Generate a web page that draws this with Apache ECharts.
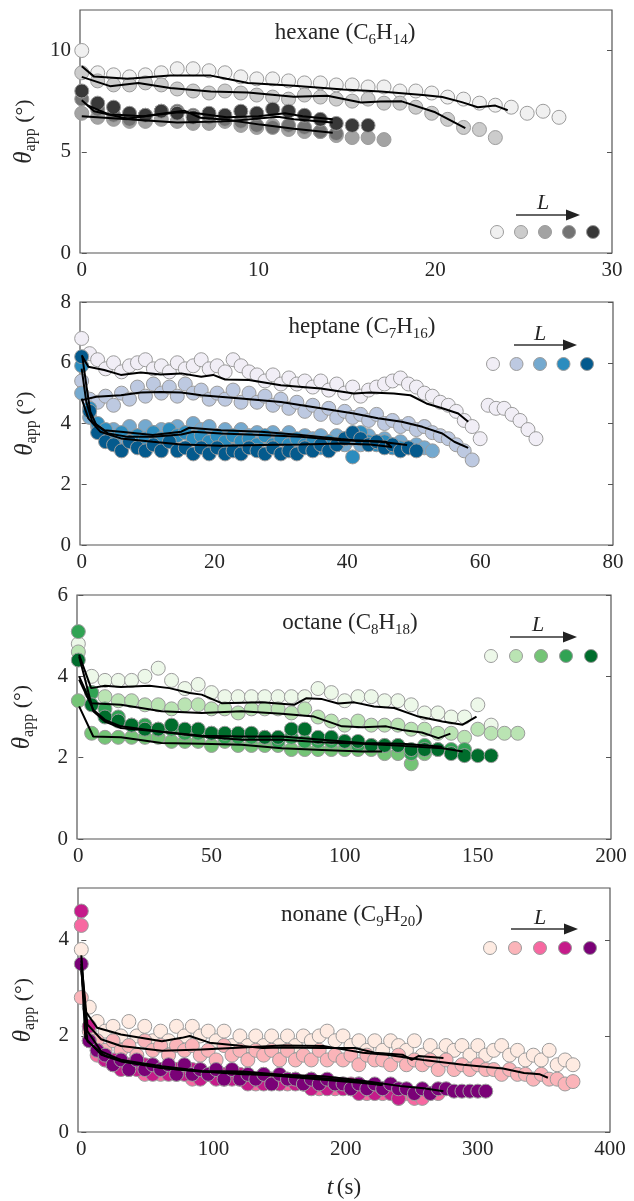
<!DOCTYPE html>
<html>
<head>
<meta charset="utf-8">
<script src="https://cdn.jsdelivr.net/npm/echarts@6.0.0/dist/echarts.min.js"></script>
<style>
  html, body { margin: 0; padding: 0; background: #fff; }
  #chart { width: 634px; height: 1201px; }
</style>
</head>
<body>
<div id="chart"></div>
<script>
// colours per liquid, shortest L first
const hexaneColors = ['#f0f0f0', '#cccccc', '#a3a3a3', '#737373', '#383838']
const heptaneColors = ['#f1eef6', '#bdc9e1', '#74a9cf', '#2b8cbe', '#045a8d']
const octaneColors = ['#edf8e9', '#bae4b3', '#74c476', '#31a354', '#006d2c']
const nonaneColors = ['#feebe2', '#fbb4b9', '#f768a1', '#c51b8a', '#7a0177']

// sampling interval (s) of each run
const hexaneStep = 0.9
const heptaneStep = 1.2
const octaneStep = 5
const nonaneStep = 6

// theta_app (deg) of each run, one value per sample
const hexane1 = [10.0, 8.9, 8.8, 8.7, 8.8, 8.9, 9.1, 9.1, 9.0, 8.9, 8.7, 8.6, 8.6, 8.5, 8.4, 8.4, 8.3, 8.3, 8.2, 8.2, 8.0, 8.0, 7.9, 7.7, 7.6, 7.4, 7.3, 7.2, 6.9, 7.0, 6.7]
const hexane2 = [8.9, 8.5, 8.3, 8.3, 8.4, 8.3, 8.1, 8.0, 7.9, 8.0, 7.9, 7.8, 7.7, 7.6, 7.8, 7.7, 7.6, 7.5, 7.6, 7.4, 7.4, 7.2, 6.9, 6.6, 6.2, 6.1, 5.7]
const hexane3 = [6.9, 6.7, 6.6, 6.5, 6.5, 6.6, 6.5, 6.4, 6.4, 6.5, 6.3, 6.2, 6.3, 6.1, 6.0, 6.0, 5.8, 5.7, 5.7, 5.6]
const hexane4 = [7.6, 7.1, 6.8, 6.6, 6.8, 7.0, 7.0, 6.8, 6.7, 6.6, 6.5, 6.3, 6.2, 6.3, 6.2, 6.0, 5.9]
const hexane5 = [8.0, 7.4, 7.2, 6.9, 6.8, 7.0, 6.9, 6.7, 6.9, 6.8, 7.0, 6.9, 7.1, 7.0, 6.8, 6.6, 6.4, 6.3, 6.3]

const heptane1 = [6.8, 6.3, 6.1, 5.8, 6.0, 5.7, 5.9, 6.0, 6.1, 5.8, 5.9, 5.7, 6.0, 5.8, 5.9, 6.1, 5.8, 5.9, 5.7, 6.1, 5.9, 5.7, 5.6, 5.4, 5.6, 5.3, 5.5, 5.3, 5.4, 5.2, 5.4, 5.1, 5.3, 5.0, 5.2, 4.9, 5.1, 5.2, 5.3, 5.4, 5.5, 5.3, 5.2, 5.0, 4.9, 4.7, 4.6, 4.4, 4.1, 3.9, 3.5, 4.6, 4.5, 4.5, 4.3, 4.1, 3.8, 3.5]
const heptane2 = [5.4, 4.8, 4.7, 4.9, 4.6, 5.0, 4.8, 5.2, 4.9, 5.3, 5.0, 5.2, 4.9, 5.3, 5.0, 5.1, 4.8, 5.0, 4.8, 5.1, 4.7, 5.0, 4.7, 4.9, 4.6, 4.8, 4.5, 4.7, 4.4, 4.6, 4.3, 4.5, 4.2, 4.4, 4.2, 4.3, 4.1, 4.3, 4.0, 4.1, 3.9, 4.0, 3.8, 3.9, 3.7, 3.6, 3.5, 3.3, 3.1, 2.8]
const heptane3 = [5.0, 4.2, 3.9, 3.6, 3.8, 3.5, 3.9, 3.6, 3.9, 3.7, 3.8, 3.6, 3.9, 3.7, 4.0, 3.8, 3.9, 3.6, 3.8, 3.5, 3.8, 3.6, 3.7, 3.5, 3.7, 3.5, 3.7, 3.4, 3.6, 3.5, 3.6, 3.4, 3.6, 3.3, 3.5, 3.3, 3.6, 3.4, 3.5, 3.3, 3.4, 3.2, 3.3, 3.2, 3.1]
const heptane4 = [5.9, 4.5, 4.0, 3.8, 3.5, 3.7, 3.4, 3.6, 3.5, 3.7, 3.5, 3.8, 3.6, 3.7, 3.5, 3.6, 3.4, 3.6, 3.4, 3.6, 3.4, 3.5, 3.3, 3.6, 3.3, 3.5, 3.3, 3.5, 3.3, 3.4, 3.2, 3.4, 3.3, 3.5, 2.9, 3.7, 3.4, 3.3, 3.4, 3.2, 3.2]
const heptane5 = [6.2, 4.4, 3.7, 3.4, 3.3, 3.1, 3.4, 3.2, 3.1, 3.3, 3.1, 3.4, 3.1, 3.2, 3.0, 3.2, 3.0, 3.2, 3.0, 3.1, 3.0, 3.2, 3.1, 3.0, 3.2, 3.0, 3.1, 3.0, 3.2, 3.1, 3.3, 3.1, 3.3, 3.5, 3.7, 3.5, 3.3, 3.4, 3.2, 3.3, 3.1, 3.2, 3.1]

const octane1 = [4.8, 4.0, 3.9, 3.9, 3.9, 4.0, 4.2, 3.9, 3.7, 3.8, 3.6, 3.5, 3.5, 3.5, 3.5, 3.5, 3.5, 3.5, 3.7, 3.6, 3.4, 3.5, 3.5, 3.4, 3.4, 3.3, 3.1, 3.1, 3.0, 3.0, 3.3, 2.8]
const octane2 = [4.6, 3.6, 3.5, 3.4, 3.4, 3.3, 3.3, 3.2, 3.3, 3.3, 3.2, 3.2, 3.1, 3.2, 3.2, 3.2, 3.1, 3.2, 3.0, 2.9, 2.8, 2.9, 2.8, 2.8, 2.8, 2.7, 2.7, 2.6, 2.6, 2.5, 2.7, 2.6, 2.6, 2.6]
const octane3 = [3.4, 2.6, 2.5, 2.5, 2.5, 2.5, 2.5, 2.4, 2.4, 2.4, 2.3, 2.4, 2.3, 2.3, 2.3, 2.3, 2.2, 2.2, 2.2, 2.2, 2.2, 2.2, 2.2, 2.1, 2.1, 1.85, 2.1]
const octane4 = [5.1, 3.6, 3.2, 3.0, 2.8, 2.8, 2.7, 2.7, 2.6, 2.6, 2.6, 2.5, 2.5, 2.5, 2.5, 2.4, 2.5, 2.4, 2.4, 2.4, 2.4, 2.3, 2.3, 2.3, 2.3, 2.1, 2.3, 2.2, 2.2, 2.2]
const octane5 = [4.4, 3.3, 3.0, 2.9, 2.8, 2.7, 2.7, 2.8, 2.7, 2.7, 2.6, 2.6, 2.6, 2.6, 2.5, 2.5, 2.7, 2.7, 2.5, 2.5, 2.4, 2.4, 2.3, 2.3, 2.3, 2.2, 2.2, 2.2, 2.1, 2.05, 2.05, 2.05]

const nonane1 = [3.8, 2.6, 2.3, 2.1, 2.2, 2.0, 2.3, 2.0, 2.2, 1.9, 2.1, 1.9, 2.2, 2.0, 2.2, 2.0, 2.1, 1.9, 2.1, 1.8, 2.0, 1.8, 2.0, 1.8, 2.0, 1.8, 2.0, 1.8, 2.0, 1.9, 2.0, 2.1, 1.9, 2.0, 1.8, 1.9, 1.7, 1.9, 1.7, 1.9, 1.8, 1.7, 1.9, 1.6, 1.8, 1.6, 1.8, 1.7, 1.8, 1.6, 1.8, 1.6, 1.7, 1.8, 1.6, 1.7, 1.5, 1.6, 1.5, 1.7, 1.4, 1.5, 1.4]
const nonane2 = [2.8, 2.1, 1.9, 1.7, 1.9, 1.7, 1.8, 1.6, 1.9, 1.7, 1.8, 1.6, 1.8, 1.7, 1.8, 1.6, 1.7, 1.5, 1.8, 1.6, 1.7, 1.5, 1.7, 1.6, 1.7, 1.5, 1.7, 1.5, 1.6, 1.5, 1.7, 1.5, 1.6, 1.5, 1.6, 1.4, 1.6, 1.5, 1.5, 1.4, 1.6, 1.4, 1.5, 1.4, 1.5, 1.3, 1.5, 1.3, 1.4, 1.3, 1.4, 1.3, 1.3, 1.2, 1.3, 1.2, 1.2, 1.1, 1.2, 1.1, 1.1, 1.0, 1.05]
const nonane3 = [4.3, 1.9, 1.6, 1.5, 1.4, 1.5, 1.3, 1.4, 1.2, 1.4, 1.2, 1.3, 1.2, 1.3, 1.1, 1.3, 1.2, 1.2, 1.1, 1.2, 1.1, 1.2, 1.0, 1.2, 1.1, 1.1, 1.0, 1.1, 1.0, 1.1, 0.9, 1.0, 0.9, 1.0, 0.9, 1.0, 0.8, 0.9, 0.8, 0.9, 0.7, 0.8, 0.7, 0.7, 0.8, 0.8]
const nonane4 = [4.6, 2.2, 1.7, 1.5, 1.5, 1.3, 1.4, 1.3, 1.4, 1.2, 1.3, 1.2, 1.3, 1.2, 1.3, 1.1, 1.2, 1.1, 1.2, 1.1, 1.2, 1.0, 1.1, 1.0, 1.1, 1.0, 1.1, 1.0, 1.0, 0.9, 1.0, 0.9, 1.0, 0.9, 1.0, 0.8, 0.9, 0.8, 0.9, 0.8, 0.7]
const nonane5 = [3.5, 1.9, 1.7, 1.6, 1.4, 1.5, 1.3, 1.5, 1.3, 1.4, 1.3, 1.4, 1.2, 1.4, 1.2, 1.3, 1.2, 1.3, 1.1, 1.3, 1.1, 1.2, 1.1, 1.2, 1.0, 1.2, 1.1, 1.1, 1.0, 1.1, 1.0, 1.1, 1.0, 1.0, 0.9, 1.0, 0.9, 1.0, 0.9, 1.0, 0.9, 0.9, 0.8, 0.9, 0.8, 0.9, 0.9, 0.85, 0.85, 0.85, 0.85, 0.85]

// smoothed curves (black), [t, theta]
const hexaneLine1 = [[0, 9.22], [0.7, 8.71], [2.6, 8.6], [5.0, 8.76], [7.3, 8.76], [8.2, 8.6], [9.4, 8.4], [12, 8.26], [14.8, 8.07], [16.9, 7.97], [19.3, 7.8], [20.4, 7.7], [21.5, 7.45], [22.4, 7.2], [23.4, 7.28], [24.1, 7.05]]
const hexaneLine2 = [[0, 8.7], [1.6, 8.24], [3.2, 8.4], [5.0, 8.15], [7.3, 7.97], [9.4, 7.92], [12, 7.72], [13.9, 7.77], [15.8, 7.43], [16.9, 7.48], [18.1, 7.49], [20, 6.95], [21.7, 6.17]]
const hexaneLine3 = [[0, 7.54], [0.7, 7.0], [2.6, 6.63], [4.5, 6.88], [5.8, 7.03], [6.7, 6.68], [8.2, 6.58], [10.1, 6.34], [12, 6.14], [14.2, 5.94]]
const hexaneLine4 = [[0, 6.75], [2.6, 6.6], [5.4, 6.44], [8.2, 6.5], [11.1, 6.73], [12, 6.6], [14.2, 6.44]]
const hexaneLine5 = [[0.3, 7.3], [1.5, 6.85], [3.5, 6.75], [5.5, 6.95], [6.5, 6.9], [8.2, 6.7], [10, 6.75], [11.5, 6.9], [12.5, 6.75], [14.2, 6.6]]

const heptaneLine1 = [[0, 6.25], [1, 5.87], [3.4, 5.76], [5.9, 5.6], [8.9, 5.68], [11.9, 5.61], [15, 5.65], [18, 5.54], [19.8, 5.6], [21.6, 5.45], [25.2, 5.43], [30, 5.26], [36, 5.15], [41, 4.99], [43.4, 5.02], [47, 4.99], [49.5, 4.93], [51.9, 4.66], [54.3, 4.5], [56.7, 4.33], [58.2, 4.06]]
const heptaneLine2 = [[0, 4.77], [2.2, 4.88], [5.9, 4.93], [8.9, 5.02], [11.9, 5.04], [15, 5.02], [18, 4.93], [24, 4.82], [30, 4.71], [36, 4.5], [41, 4.33], [44.6, 4.17], [48.2, 4.06], [51.3, 3.89], [54.3, 3.67], [56.1, 3.4], [58.2, 3.2]]
const heptaneLine3 = [[0.1, 6.2], [0.7, 5.26], [1.3, 4.39], [2.2, 3.95], [4, 3.67], [7, 3.56], [10.7, 3.56], [15, 3.64], [16.8, 3.73], [21, 3.67], [27, 3.62], [33, 3.56], [39, 3.45], [45, 3.4], [49, 3.29]]
const heptaneLine4 = [[0, 5.81], [0.7, 4.71], [1.6, 4.06], [3.4, 3.78], [5.9, 3.73], [10.7, 3.62], [15, 3.73], [16.2, 3.86], [21, 3.78], [27, 3.73], [33, 3.62], [39, 3.49], [41, 3.45], [45.8, 3.4], [46.7, 3.2]]
const heptaneLine5 = [[0, 4.82], [1, 4.17], [2.8, 3.73], [5.9, 3.51], [10.7, 3.4], [15, 3.31], [21, 3.27], [27, 3.29], [33, 3.31], [39, 3.34], [43.4, 3.31], [46.7, 3.23]]

const octaneLine1 = [[0.3, 4.53], [4.8, 3.71], [10, 3.77], [16, 3.74], [26.7, 3.77], [34.2, 3.71], [41.8, 3.59], [46.3, 3.55], [53.8, 3.34], [68.9, 3.36], [81, 3.3], [85.5, 3.46], [91.5, 3.44], [97.5, 3.33], [103.6, 3.36], [111, 3.26], [118.6, 3.22], [127.7, 3.01], [136.7, 2.89], [144.3, 2.81], [149.5, 3.01]]
const octaneLine2 = [[0.3, 4.0], [4.8, 3.34], [16, 3.3], [31.2, 3.14], [46.3, 3.1], [61.3, 3.14], [76.4, 3.08], [88.5, 3.01], [99, 2.77], [106.6, 2.75], [115.6, 2.77], [121.6, 2.68], [129, 2.62], [135.2, 2.48], [139.7, 2.59]]
const octaneLine3 = [[0.3, 4.49], [5.6, 3.14], [10, 2.89], [16, 2.73], [31.2, 2.64], [46.3, 2.52], [61.3, 2.44], [76.4, 2.44], [91.5, 2.38], [106.6, 2.34], [121.6, 2.29], [136.7, 2.23], [144.3, 2.15]]
const octaneLine4 = [[0.3, 3.92], [5.6, 3.18], [10, 2.93], [16, 2.77], [31.2, 2.64], [46.3, 2.54], [61.3, 2.52], [76.4, 2.52], [91.5, 2.44], [106.6, 2.36], [121.6, 2.34], [136.7, 2.27]]
const octaneLine5 = [[0.3, 3.26], [5.6, 2.52], [16, 2.5], [31.2, 2.36], [46.3, 2.34], [61.3, 2.32], [76.4, 2.23], [91.5, 2.19], [106.6, 2.15], [114, 2.15]]

const nonaneLine1 = [[0, 3.68], [3, 2.52], [12, 2.17], [30, 2.03], [61, 1.89], [76, 1.96], [82, 2.0], [97, 1.86], [122, 1.79], [137, 1.75], [152, 1.76], [183, 1.75], [207, 1.75], [222, 1.65], [243, 1.61], [250, 1.5], [255, 1.58], [274, 1.54]]
const nonaneLine2 = [[0, 3.57], [4.6, 2.24], [15, 1.93], [30, 1.79], [61, 1.69], [91, 1.72], [122, 1.76], [152, 1.8], [183, 1.79], [198, 1.72], [213, 1.65], [231, 1.61], [259, 1.5], [289, 1.4], [319, 1.32], [335, 1.23], [347, 1.2], [353, 1.13]]
const nonaneLine3 = [[0, 3.36], [4.6, 2.1], [15, 1.68], [30, 1.5], [61, 1.33], [91, 1.26], [122, 1.23], [152, 1.16], [183, 1.09], [213, 1.02], [228, 0.98]]
const nonaneLine4 = [[0, 3.5], [3, 1.96], [15, 1.61], [30, 1.5], [61, 1.37], [91, 1.27], [122, 1.26], [152, 1.19], [183, 1.16], [207, 1.09], [225, 1.02], [243, 0.95], [259, 0.91], [274, 0.85]]
const nonaneLine5 = [[0, 3.43], [4.6, 1.89], [18, 1.58], [30, 1.47], [61, 1.33], [91, 1.26], [122, 1.2], [152, 1.18], [183, 1.12], [213, 1.04], [227, 0.98]]

// tick labels
const hexaneXTicks = [0, 10, 20, 30]
const hexaneYTicks = [0, 5, 10]
const heptaneXTicks = [0, 20, 40, 60, 80]
const heptaneYTicks = [0, 2, 4, 6, 8]
const octaneXTicks = [0, 50, 100, 150, 200]
const octaneYTicks = [0, 2, 4, 6]
const nonaneXTicks = [0, 100, 200, 300, 400]
const nonaneYTicks = [0, 2, 4]

const serif = "'Liberation Serif', 'DejaVu Serif', serif"
const ink = '#262626'

const panels = [
  {
    name: 'hexane', sub: ['6', '14'], colors: hexaneColors, step: hexaneStep,
    runs: [hexane1, hexane2, hexane3, hexane4, hexane5],
    lines: [hexaneLine1, hexaneLine2, hexaneLine3, hexaneLine4, hexaneLine5],
    xMin: -0.1, xMax: 30, yMax: 12, xTicks: hexaneXTicks, yTicks: hexaneYTicks,
    grid: { left: 80, top: 10, width: 532, height: 243 },
    title: [345, 33],
    key: { x0: 497, dx: 24, cy: 232, ay: 215, ax: [516, 580], lx: 543, ly: 203 }
  },
  {
    name: 'heptane', sub: ['7', '16'], colors: heptaneColors, step: heptaneStep,
    runs: [heptane1, heptane2, heptane3, heptane4, heptane5],
    lines: [heptaneLine1, heptaneLine2, heptaneLine3, heptaneLine4, heptaneLine5],
    xMin: -0.25, xMax: 80, yMax: 8, xTicks: heptaneXTicks, yTicks: heptaneYTicks,
    grid: { left: 80, top: 302, width: 533, height: 243 },
    title: [362, 327],
    key: { x0: 493, dx: 23.5, cy: 364, ay: 345, ax: [514, 577], lx: 540, ly: 334 }
  },
  {
    name: 'octane', sub: ['8', '18'], colors: octaneColors, step: octaneStep,
    runs: [octane1, octane2, octane3, octane4, octane5],
    lines: [octaneLine1, octaneLine2, octaneLine3, octaneLine4, octaneLine5],
    xMin: -0.5, xMax: 200, yMax: 6, xTicks: octaneXTicks, yTicks: octaneYTicks,
    grid: { left: 77, top: 595, width: 534, height: 244 },
    title: [350, 623],
    key: { x0: 491, dx: 25, cy: 656, ay: 637, ax: [510, 577], lx: 538, ly: 625 }
  },
  {
    name: 'nonane', sub: ['9', '20'], colors: nonaneColors, step: nonaneStep,
    runs: [nonane1, nonane2, nonane3, nonane4, nonane5],
    lines: [nonaneLine1, nonaneLine2, nonaneLine3, nonaneLine4, nonaneLine5],
    xMin: -2.5, xMax: 400, yMax: 5.08, xTicks: nonaneXTicks, yTicks: nonaneYTicks,
    grid: { left: 78, top: 888, width: 532, height: 244 },
    title: [352, 915],
    key: { x0: 490, dx: 25, cy: 948, ay: 929, ax: [511, 578], lx: 540, ly: 918 }
  }
]

const titleRich = {
  a: { fontFamily: serif, fontSize: 23, lineHeight: 30, fill: ink },
  s: { fontFamily: serif, fontSize: 15, lineHeight: 17, verticalAlign: 'bottom', fill: ink }
}

const chart = echarts.init(document.getElementById('chart'))

const grids = panels.map((p) => ({
  ...p.grid,
  show: true,
  borderColor: '#555',
  borderWidth: 1.2,
  containLabel: false
}))

const xAxes = panels.map((p, k) => {
  const axis = {
    type: 'value',
    gridIndex: k,
    min: p.xMin,
    max: p.xMax,
    axisLine: { show: false },
    axisTick: { show: false },
    splitLine: { show: false },
    axisLabel: {
      customValues: p.xTicks,
      color: ink,
      fontFamily: serif,
      fontSize: 21,
      margin: 7
    }
  }
  if (k === panels.length - 1) {
    axis.name = '{t|t} {n|(s)}'
    axis.nameLocation = 'middle'
    axis.nameGap = 44
    axis.nameTextStyle = {
      rich: {
        t: { fontFamily: serif, fontStyle: 'italic', fontSize: 24, color: ink },
        n: { fontFamily: serif, fontSize: 23, color: ink }
      }
    }
  }
  return axis
})

const yAxes = []
panels.forEach((p, k) => {
  yAxes.push({
    type: 'value',
    gridIndex: k,
    min: 0,
    max: p.yMax,
    position: 'left',
    axisLine: { show: false },
    axisTick: { show: true, inside: true, length: 5, customValues: p.yTicks, lineStyle: { color: '#555' } },
    splitLine: { show: false },
    axisLabel: { customValues: p.yTicks, color: ink, fontFamily: serif, fontSize: 21, margin: 9 },
    name: '{th|θ}{sub|app}{n| (°)}',
    nameLocation: 'middle',
    nameRotate: 90,
    nameGap: 40,
    nameTextStyle: {
      rich: {
        th: { fontFamily: serif, fontStyle: 'italic', fontSize: 25, lineHeight: 30, color: ink },
        sub: { fontFamily: serif, fontSize: 16, lineHeight: 18, verticalAlign: 'bottom', color: ink },
        n: { fontFamily: serif, fontSize: 22, lineHeight: 30, color: ink }
      }
    }
  })
  yAxes.push({
    type: 'value',
    gridIndex: k,
    min: 0,
    max: p.yMax,
    position: 'right',
    axisLine: { show: false },
    axisTick: { show: true, inside: true, length: 5, customValues: p.yTicks, lineStyle: { color: '#555' } },
    splitLine: { show: false },
    axisLabel: { show: false }
  })
})

const series = []
panels.forEach((p, k) => {
  p.runs.forEach((run, j) => {
    series.push({
      type: 'scatter',
      xAxisIndex: k,
      yAxisIndex: 2 * k,
      data: run.map((v, i) => [i * p.step, v]),
      symbol: 'circle',
      symbolSize: 14,
      clip: false,
      silent: true,
      z: 2,
      itemStyle: { color: p.colors[j], borderColor: '#9c9c9c', borderWidth: 1, opacity: 1 }
    })
  })
  p.lines.forEach((line) => {
    series.push({
      type: 'line',
      xAxisIndex: k,
      yAxisIndex: 2 * k,
      data: line,
      showSymbol: false,
      symbol: 'none',
      silent: true,
      z: 4,
      lineStyle: { color: '#000', width: 2 }
    })
  })
})

const graphic = []
panels.forEach((p) => {
  graphic.push({
    type: 'text',
    x: p.title[0],
    y: p.title[1],
    z: 10,
    style: {
      text: '{a|' + p.name + ' (C}{s|' + p.sub[0] + '}{a|H}{s|' + p.sub[1] + '}{a|)}',
      rich: titleRich,
      align: 'center',
      verticalAlign: 'middle'
    }
  })
  const key = p.key
  p.colors.forEach((c, j) => {
    graphic.push({
      type: 'circle',
      z: 10,
      shape: { cx: key.x0 + j * key.dx, cy: key.cy, r: 6.5 },
      style: { fill: c, stroke: '#9c9c9c', lineWidth: 1 }
    })
  })
  graphic.push({
    type: 'line',
    z: 10,
    shape: { x1: key.ax[0], y1: key.ay, x2: key.ax[1] - 12, y2: key.ay },
    style: { stroke: '#333', lineWidth: 1.5 }
  })
  graphic.push({
    type: 'polygon',
    z: 10,
    shape: { points: [[key.ax[1] - 14, key.ay - 5.5], [key.ax[1], key.ay], [key.ax[1] - 14, key.ay + 5.5]] },
    style: { fill: '#222' }
  })
  graphic.push({
    type: 'text',
    x: key.lx,
    y: key.ly,
    z: 10,
    style: {
      text: 'L',
      fontFamily: serif,
      fontStyle: 'italic',
      fontSize: 22,
      fill: ink,
      align: 'center',
      verticalAlign: 'middle'
    }
  })
})

chart.setOption({
  backgroundColor: '#fff',
  animation: false,
  grid: grids,
  xAxis: xAxes,
  yAxis: yAxes,
  series: series,
  graphic: graphic
})
</script>
</body>
</html>
